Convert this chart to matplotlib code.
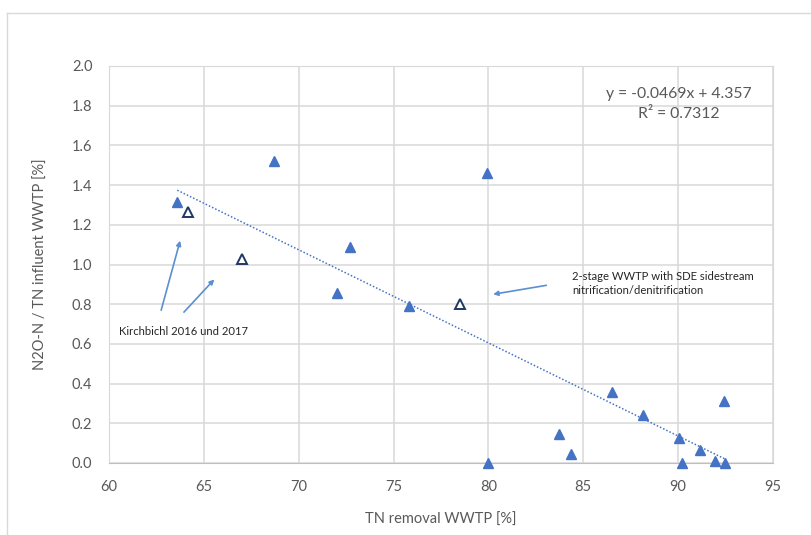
import matplotlib
matplotlib.use("Agg")
import matplotlib.pyplot as plt
import numpy as np
from matplotlib.lines import Line2D

# WWTP data (filled markers)
tn_removal = [63.6, 68.7, 72.7, 72.0, 75.8, 79.9, 80.0, 83.7, 84.35, 86.5,
              88.15, 90.05, 90.2, 91.15, 91.95, 92.45, 92.4]
n2o_ratio = [1.315, 1.52, 1.088, 0.856, 0.79, 1.46, 0.0, 0.146, 0.045, 0.36,
             0.24, 0.128, 0.0, 0.065, 0.01, 0.0, 0.31]

# highlighted plants (open markers)
open_tn_removal = [64.15, 67.0, 78.5]
open_n2o_ratio = [1.262, 1.028, 0.80]

trend_slope = -0.0469
trend_intercept = 4.357
r_squared = 0.7312

x_ticks = [60, 65, 70, 75, 80, 85, 90, 95]
y_ticks = [0.0, 0.2, 0.4, 0.6, 0.8, 1.0, 1.2, 1.4, 1.6, 1.8, 2.0]

plt.rcParams["font.family"] = ["Lato", "DejaVu Sans"]

FILL = "#4472C4"
EDGE_DARK = "#203864"
ARROW = "#5B8FD0"
GRID = "#D9D9D9"
TEXT = "#595959"

fig = plt.figure(figsize=(8.11, 5.35), dpi=100)
ax = fig.add_axes([109 / 811, 72 / 535, 664 / 811, 397 / 535])

# outer chart border (left and top)
fig.add_artist(Line2D([7 / 811, 7 / 811], [0, 1 - 13 / 535], color=GRID, lw=1.0))
fig.add_artist(Line2D([7 / 811, 1], [1 - 13 / 535, 1 - 13 / 535], color=GRID, lw=1.0))

all_x = tn_removal + open_tn_removal
trend_x = np.array([min(all_x), max(all_x)])
ax.plot(trend_x, trend_slope * trend_x + trend_intercept, color=FILL,
        lw=1.1, linestyle=(0, (1, 1.3)), zorder=2)

ax.plot(tn_removal, n2o_ratio, linestyle="none", marker="^", ms=7.5,
        color=FILL, markeredgecolor=FILL, zorder=3, clip_on=False)
ax.plot(open_tn_removal, open_n2o_ratio, linestyle="none", marker="^", ms=7,
        markerfacecolor="white", markeredgecolor=EDGE_DARK, markeredgewidth=1.4,
        zorder=3)

ax.set_xlim(60, 95)
ax.set_ylim(0, 2.0)
ax.set_xticks(x_ticks)
ax.set_yticks(y_ticks)
ax.set_yticklabels([f"{v:.1f}" for v in y_ticks])
ax.grid(True, color=GRID, lw=1.1)
ax.set_axisbelow(True)
ax.tick_params(length=0, labelsize=10.5, colors=TEXT, pad=12)
for side in ("top", "right", "left"):
    ax.spines[side].set_color(GRID)
ax.spines["bottom"].set_color("#BFBFBF")

ax.set_xlabel("TN removal WWTP [%]", fontsize=10.5, color=TEXT, labelpad=14)
ax.set_ylabel("N2O-N / TN influent WWTP [%]", fontsize=10.5, color=TEXT, labelpad=17)

ax.text(90.05, 1.81, f"y = {trend_slope}x + {trend_intercept}\nR² = {r_squared}",
        ha="center", va="center", fontsize=11.3, color=TEXT, linespacing=1.55)

arrow_style = dict(arrowstyle="-|>", color=ARROW, lw=1.2, mutation_scale=7,
                   shrinkA=0, shrinkB=0)
ax.annotate("", xy=(63.75, 1.12), xytext=(62.75, 0.77), arrowprops=arrow_style)
ax.annotate("", xy=(65.55, 0.925), xytext=(63.95, 0.76), arrowprops=arrow_style)
ax.annotate("", xy=(80.25, 0.85), xytext=(83.05, 0.895), arrowprops=arrow_style)

ax.text(60.55, 0.66, "Kirchbichl 2016 und 2017", fontsize=8.1, color="#262626",
        ha="left", va="center")
ax.text(84.4, 0.905, "2-stage WWTP with SDE sidestream\nnitrification/denitrification",
        fontsize=8.1, color="#262626", ha="left", va="center", linespacing=1.3)

fig.savefig("out.png", dpi=100, facecolor="white")
